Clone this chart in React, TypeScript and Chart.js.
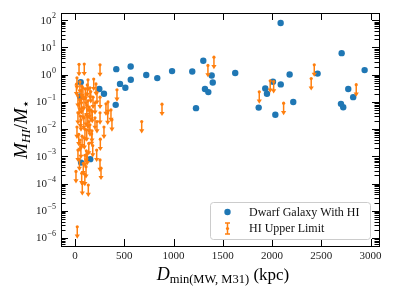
import React, { useEffect, useRef } from "react";
import { Chart, registerables } from "chart.js";
Chart.register(...registerables);

const BLUE = "#1f77b4";
const ORANGE = "#ff7f0e";
const SERIF = "'Liberation Serif', 'Times New Roman', serif";

// Dwarf galaxies with HI detections
const hiDistance = [2087, 2706, 1302, 1387, 1398, 1319, 1353, 1626, 1864, 1931, 1948, 2009, 2033, 2088, 2178, 2215, 2462, 2699, 2722, 2773, 2823, 2939, 58, 51, 247, 294, 419, 565, 457, 511, 566, 413, 723, 835, 985, 1190, 1228, 62, 155];
const hiRatio = [78.9, 6.2, 3.24, 0.93, 0.52, 0.30, 0.23, 1.15, 0.062, 0.31, 0.20, 0.55, 0.034, 0.44, 1.02, 0.10, 1.1, 0.085, 0.064, 0.30, 0.15, 1.48, 0.53, 0.16, 0.30, 0.20, 1.6, 2.0, 0.46, 0.33, 0.65, 0.078, 0.97, 0.75, 1.36, 1.31, 0.059, 5.9e-4, 7.9e-4];

// HI upper limits
const limDistance = [1410, 1349, 1870, 1981, 2016, 2117, 2428, 2397, 2854, 426, 883, 677, 254,
  41, 94, 190, 20, 132, 213, 152, 61, 112, 30, 183, 91, 132, 41, 203, 335, 81, 162, 30, 112, 254, 365, 375, 61, 142, 203, 20, 101, 172, 294, 119, 169, 257, 101, 254, 10, 68, 84, 112, 135, 74, 264, 23, 220, 332, 51, 30, 223, 152, 81, 223, 254, 314,
  15, 50, 70, 105, 125, 160, 48, 66, 120, 145, 175, 55, 90, 130, 38, 72, 95, 140, 60, 115, 180, 45, 125, 100];
const limRatio = [4.4, 2.2, 0.235, 0.60, 0.56, 0.090, 2.3, 0.72, 0.43, 0.28, 0.083, 0.019, 2.3,
  2.4, 2.45, 0.69, 0.77, 0.65, 0.46, 0.33, 0.26, 0.20, 0.17, 0.15, 0.13, 0.11, 0.085, 0.093, 0.10, 0.061, 0.051, 0.040, 0.034, 0.040, 0.051, 0.022, 0.022, 0.019, 0.026, 0.012, 0.010, 0.0087, 0.012, 0.0094, 0.0067, 0.0043, 0.0011, 7.4e-4, 2.8e-4, 2.4e-4, 5.6e-4, 4.2e-4, 8.9e-5, 1.0e-4, 3.7e-4, 2.6e-6, 0.0017, 0.039, 0.0040, 0.0017, 0.019, 0.0145, 0.33, 0.22, 0.15, 0.085,
  0.45, 0.55, 0.38, 0.30, 0.42, 0.24, 0.12, 0.095, 0.075, 0.065, 0.045, 0.030, 0.026, 0.028, 0.0065, 0.0055, 0.0048, 0.0030, 0.0022, 0.0016, 0.0025, 8.0e-4, 0.0013, 2.2e-4];

const xTicks = [0, 500, 1000, 1500, 2000, 2500, 3000];
const yExponents = [-6, -5, -4, -3, -2, -1, 0, 1, 2];
const X_MIN = -142;
const X_MAX = 3085;
const Y_MIN = 5.1e-7;
const Y_MAX = 1.85e2;
const ARROW_FACTOR = 0.363; // arrow length in data (log) space

const decoPlugin = {
  id: "deco",
  afterDatasetsDraw(chart: any) {
    const { ctx, chartArea, scales } = chart;
    const xs = scales.x;
    const ys = scales.y;
    ctx.save();
    ctx.beginPath();
    ctx.rect(chartArea.left, chartArea.top, chartArea.right - chartArea.left, chartArea.bottom - chartArea.top);
    ctx.clip();
    ctx.strokeStyle = ORANGE;
    ctx.fillStyle = ORANGE;
    ctx.lineWidth = 1.5;
    limDistance.forEach((xv, i) => {
      const px = xs.getPixelForValue(xv);
      const py0 = ys.getPixelForValue(limRatio[i]);
      const py1 = ys.getPixelForValue(limRatio[i] * ARROW_FACTOR);
      ctx.beginPath();
      ctx.moveTo(px, py0);
      ctx.lineTo(px, py1 - 3);
      ctx.stroke();
      ctx.beginPath();
      ctx.moveTo(px - 2.6, py1 - 4.2);
      ctx.lineTo(px + 2.6, py1 - 4.2);
      ctx.lineTo(px, py1);
      ctx.closePath();
      ctx.fill();
    });
    ctx.restore();
  },
  afterDraw(chart: any) {
    const { ctx, chartArea, scales } = chart;
    const xs = scales.x;
    const ys = scales.y;
    const L = chartArea.left, R = chartArea.right, T = chartArea.top, B = chartArea.bottom;
    ctx.save();
    ctx.strokeStyle = "#000";
    ctx.lineWidth = 1;
    // frame
    ctx.strokeRect(Math.round(L) + 0.5, Math.round(T) + 0.5, Math.round(R - L), Math.round(B - T));
    // x ticks (inward, top and bottom)
    ctx.beginPath();
    xTicks.forEach((v) => {
      const px = Math.round(xs.getPixelForValue(v)) + 0.5;
      ctx.moveTo(px, B);
      ctx.lineTo(px, B - 7);
      ctx.moveTo(px, T);
      ctx.lineTo(px, T + 7);
    });
    // y ticks major + minor (inward, left and right)
    for (let e = -7; e <= 2; e++) {
      for (let m = 1; m <= 9; m++) {
        const v = m * Math.pow(10, e);
        if (v < Y_MIN || v > Y_MAX) continue;
        const py = Math.round(ys.getPixelForValue(v)) + 0.5;
        const len = m === 1 ? 7 : 4.5;
        ctx.moveTo(L, py);
        ctx.lineTo(L + len, py);
        ctx.moveTo(R, py);
        ctx.lineTo(R - len, py);
      }
    }
    ctx.stroke();

    // tick labels
    ctx.fillStyle = "#222";
    ctx.font = `11px ${SERIF}`;
    ctx.textAlign = "center";
    ctx.textBaseline = "middle";
    xTicks.forEach((v) => {
      ctx.fillText(String(v), xs.getPixelForValue(v), B + 10.5);
    });
    yExponents.forEach((e) => {
      const py = ys.getPixelForValue(Math.pow(10, e));
      const exp = e < 0 ? "\u2212" + String(-e) : String(e);
      ctx.textAlign = "right";
      ctx.font = `8px ${SERIF}`;
      const ew = ctx.measureText(exp).width;
      ctx.fillText(exp, 56, py - 4);
      ctx.font = `11px ${SERIF}`;
      ctx.fillText("10", 56 - ew - 0.5, py + 0.5);
    });

    // x axis title
    ctx.fillStyle = "#000";
    ctx.textBaseline = "alphabetic";
    ctx.textAlign = "left";
    const parts = [
      { t: "D", f: `italic 18px ${SERIF}`, dy: 0 },
      { t: "min(MW, M31)", f: `12.5px ${SERIF}`, dy: 2.5 },
      { t: " (kpc)", f: `17px ${SERIF}`, dy: 0 },
    ];
    let total = 0;
    parts.forEach((p) => { ctx.font = p.f; total += ctx.measureText(p.t).width; });
    let cx = (L + R) / 2 + 3 - total / 2;
    parts.forEach((p) => {
      ctx.font = p.f;
      ctx.fillText(p.t, cx, 280 + p.dy);
      cx += ctx.measureText(p.t).width;
    });

    // y axis title (rotated)
    ctx.save();
    ctx.translate(20, (T + B) / 2);
    ctx.rotate(-Math.PI / 2);
    const yparts = [
      { t: "M", f: `italic 19px ${SERIF}`, dy: 0 },
      { t: "HI", f: `italic 13px ${SERIF}`, dy: 3 },
      { t: "/", f: `19px ${SERIF}`, dy: 0 },
      { t: "M", f: `italic 19px ${SERIF}`, dy: 0 },
      { t: "\u22c6", f: `13px ${SERIF}`, dy: 3 },
    ];
    let ytot = 0;
    yparts.forEach((p) => { ctx.font = p.f; ytot += ctx.measureText(p.t).width; });
    let yx = -ytot / 2;
    yparts.forEach((p) => {
      ctx.font = p.f;
      ctx.fillText(p.t, yx, 6.5 + p.dy);
      yx += ctx.measureText(p.t).width;
    });
    ctx.restore();

    // legend
    ctx.beginPath();
    ctx.roundRect(210.5, 202.5, 160, 37, 3);
    ctx.fillStyle = "rgba(255,255,255,0.8)";
    ctx.fill();
    ctx.strokeStyle = "#cccccc";
    ctx.stroke();
    ctx.fillStyle = BLUE;
    ctx.beginPath();
    ctx.arc(227.5, 212, 3.2, 0, Math.PI * 2);
    ctx.fill();
    ctx.strokeStyle = ORANGE;
    ctx.fillStyle = ORANGE;
    ctx.lineWidth = 1.5;
    ctx.beginPath();
    ctx.moveTo(227.5, 223);
    ctx.lineTo(227.5, 234);
    ctx.moveTo(225, 223);
    ctx.lineTo(230, 223);
    ctx.moveTo(225, 234);
    ctx.lineTo(230, 234);
    ctx.stroke();
    ctx.beginPath();
    ctx.arc(227.5, 228.5, 1.6, 0, Math.PI * 2);
    ctx.fill();
    ctx.fillStyle = "#111";
    ctx.font = `12px ${SERIF}`;
    ctx.textAlign = "left";
    ctx.textBaseline = "middle";
    ctx.fillText("Dwarf Galaxy With HI", 249, 212.5);
    ctx.fillText("HI Upper Limit", 249, 229);
    ctx.restore();
  },
};

export default function App() {
  const ref = useRef<HTMLCanvasElement>(null);
  useEffect(() => {
    if (!ref.current) return;
    const chart = new Chart(ref.current, {
      type: "scatter",
      data: {
        datasets: [
          {
            label: "Dwarf Galaxy With HI",
            data: hiDistance.map((x, i) => ({ x, y: hiRatio[i] })),
            backgroundColor: BLUE,
            borderWidth: 0,
            pointRadius: 3.2,
            order: 2,
          },
          {
            label: "HI Upper Limit",
            data: limDistance.map((x, i) => ({ x, y: limRatio[i] })),
            backgroundColor: ORANGE,
            borderWidth: 0,
            pointRadius: 1.6,
            order: 1,
          },
        ],
      },
      options: {
        responsive: false,
        animation: false,
        devicePixelRatio: 1,
        layout: { padding: { left: 61, top: 13, right: 17, bottom: 51 } },
        plugins: { legend: { display: false }, tooltip: { enabled: false } },
        scales: {
          x: { type: "linear", min: X_MIN, max: X_MAX, display: false },
          y: { type: "logarithmic", min: Y_MIN, max: Y_MAX, display: false },
        },
      },
      plugins: [decoPlugin],
    });
    return () => chart.destroy();
  }, []);
  return (
    <div style={{ position: "absolute", left: 0, top: 0, width: 396, height: 297, background: "#fff" }}>
      <canvas ref={ref} width={396} height={297} style={{ display: "block", width: 396, height: 297 }} />
    </div>
  );
}
